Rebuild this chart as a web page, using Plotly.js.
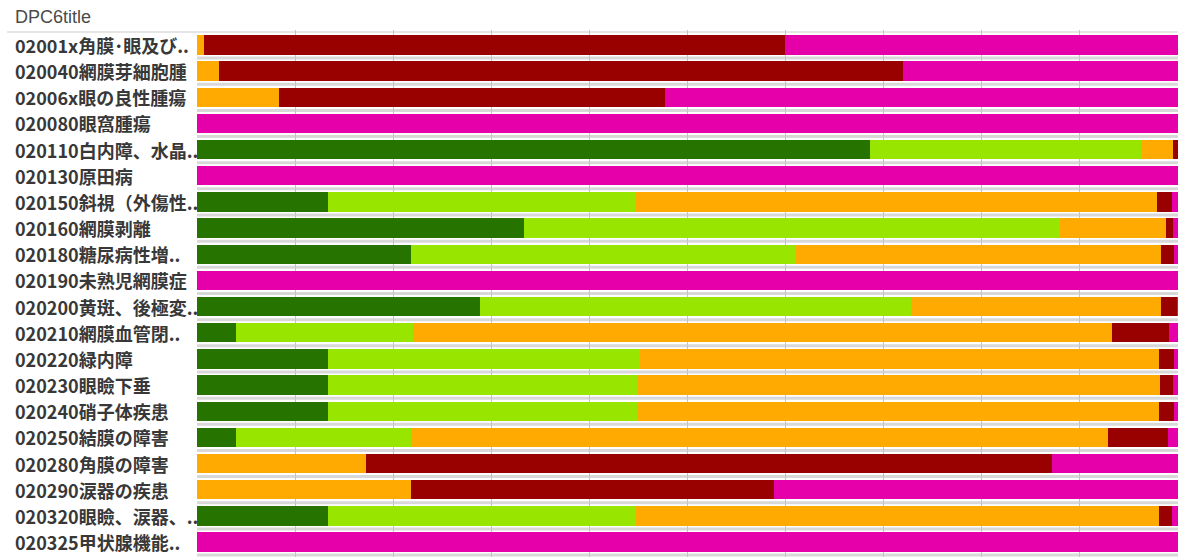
<!DOCTYPE html>
<html>
<head>
<meta charset="utf-8">
<script src="https://cdn.plot.ly/plotly-3.0.1.min.js"></script>
<style>
html,body{margin:0;padding:0;background:#fff;}
#chart{width:1189px;height:557px;}
</style>
</head>
<body>
<div id="chart"></div>
<script>
const categories = [
  '02001x角膜･眼及び..', '020040網膜芽細胞腫', '02006x眼の良性腫瘍', '020080眼窩腫瘍',
  '020110白内障、水晶..', '020130原田病', '020150斜視（外傷性..', '020160網膜剥離',
  '020180糖尿病性増..', '020190未熟児網膜症', '020200黄斑、後極変..', '020210網膜血管閉..',
  '020220緑内障', '020230眼瞼下垂', '020240硝子体疾患', '020250結膜の障害',
  '020280角膜の障害', '020290涙器の疾患', '020320眼瞼、涙器、..', '020325甲状腺機能..'
];
const darkGreen  = [0, 0, 0, 0, 68.6, 0, 13.4, 33.3, 21.85, 0, 28.85, 3.96, 13.4, 13.4, 13.4, 4.0, 0, 0, 13.4, 0];
const lightGreen = [0, 0, 0, 0, 27.6, 0, 31.4, 54.7, 39.2, 0, 43.9, 18.04, 31.8, 31.6, 31.6, 17.8, 0, 0, 31.35, 0];
const orange     = [0.72, 2.2, 8.35, 0, 3.3, 0, 53.1, 10.8, 37.2, 0, 25.5, 71.3, 52.9, 53.2, 53.1, 71.1, 17.2, 21.8, 53.35, 0];
const darkRed    = [59.2, 69.8, 39.35, 0, 0.5, 0, 1.5, 0.7, 1.3, 0, 1.6, 5.8, 1.5, 1.3, 1.5, 6.1, 70.0, 37.0, 1.3, 0];
const magenta    = [40.08, 28.0, 52.3, 100, 0, 100, 0.6, 0.5, 0.45, 100, 0.15, 0.9, 0.4, 0.5, 0.4, 1.0, 12.8, 41.2, 0.6, 100];
const headerTitle = 'DPC6title';

const seriesList = [
  {name: 'g1', values: darkGreen,  color: '#267300'},
  {name: 'g2', values: lightGreen, color: '#98e600'},
  {name: 'g3', values: orange,     color: '#ffaa00'},
  {name: 'g4', values: darkRed,    color: '#990000'},
  {name: 'g5', values: magenta,    color: '#e600a9'}
];

const traces = seriesList.map(s => ({
  type: 'bar',
  orientation: 'h',
  name: s.name,
  x: s.values,
  y: categories,
  width: 0.74,
  marker: {color: s.color, line: {width: 0}},
  hoverinfo: 'none'
}));

const W = 1189, H = 557, L = 197, R = 11, T = 30, B = 0;
const pw = W - L - R, ph = H - T - B;
const labelX = (13 - L) / pw;

const annotations = categories.map(c => ({
  xref: 'paper', yref: 'y', x: labelX, y: c,
  text: c, showarrow: false, xanchor: 'left', yanchor: 'middle',
  font: {family: '"Noto Sans CJK JP", "Noto Sans", sans-serif', size: 18, color: '#383838', weight: 'bold'}
}));
annotations.push({
  xref: 'paper', yref: 'paper', x: labelX, y: 1 + (T - 17) / ph,
  text: headerTitle, showarrow: false, xanchor: 'left', yanchor: 'middle',
  font: {family: '"Liberation Sans", Arial, sans-serif', size: 18, color: '#4a4a4a'}
});

const shapes = [];
for (let i = 0; i < categories.length; i++) {
  shapes.push({
    type: 'line', xref: 'paper', yref: 'y', x0: 0, x1: 1, y0: i + 0.5, y1: i + 0.5,
    line: {color: '#d8d8d8', width: 3}, layer: 'below'
  });
}
shapes.push({
  type: 'line', xref: 'paper', yref: 'y', x0: labelX - 0.006, x1: 1, y0: -0.5, y1: -0.5,
  line: {color: '#dcdcdc', width: 1.5}, layer: 'below'
});

const layout = {
  width: W, height: H,
  margin: {l: L, r: R, t: T, b: B, pad: 0},
  barmode: 'stack',
  showlegend: false,
  paper_bgcolor: '#ffffff',
  plot_bgcolor: '#ffffff',
  xaxis: {
    range: [0, 100], dtick: 10, tick0: 0, showgrid: true, gridcolor: '#c4c4c4', gridwidth: 1,
    showticklabels: false, zeroline: false, showline: false, ticks: '', fixedrange: true
  },
  yaxis: {
    type: 'category', autorange: 'reversed', showticklabels: false, showgrid: false,
    zeroline: false, showline: false, ticks: '', fixedrange: true
  },
  annotations: annotations,
  shapes: shapes
};

Plotly.newPlot('chart', traces, layout, {displayModeBar: false, staticPlot: true});
</script>
</body>
</html>
